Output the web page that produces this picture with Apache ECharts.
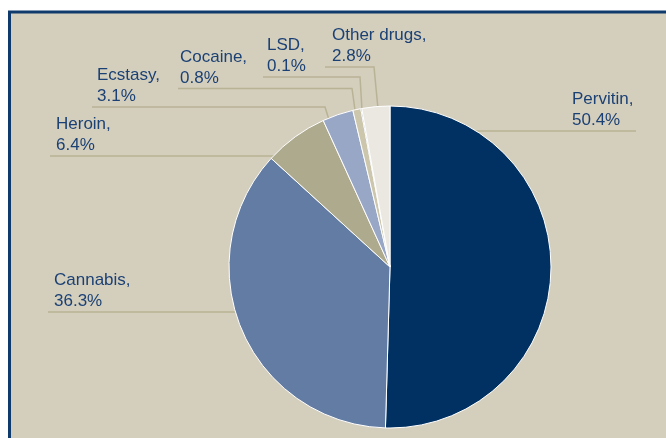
<!DOCTYPE html>
<html>
<head>
<meta charset="utf-8">
<script src="https://cdn.jsdelivr.net/npm/echarts@6/dist/echarts.min.js"></script>
<style>
  html, body { margin: 0; padding: 0; background: #ffffff; }
  #chart { width: 666px; height: 438px; }
</style>
</head>
<body>
<div id="chart"></div>
<script>
// ---- data ----
var categories = ['Pervitin', 'Cannabis', 'Heroin', 'Ecstasy', 'Cocaine', 'LSD', 'Other drugs'];
var shares = [50.4, 36.3, 6.4, 3.1, 0.8, 0.1, 2.8];

// ---- style / layout (not data) ----
var sliceColors = ['#003162', '#637ca4', '#aeaa8d', '#99a7c7', '#cbc6ac', '#1e3f70', '#ebe8e1'];
// label anchor (text left x, line y) and leader-line points per slice
var labelPlaces = [
  { x: 572, y: 131, pts: [[470, 131], [470, 131], [636, 131]] },
  { x: 54,  y: 312, pts: [[245, 312], [245, 312], [48, 312]] },
  { x: 56,  y: 156, pts: [[274, 156], [274, 156], [50, 156]] },
  { x: 97,  y: 107, pts: [[330, 123], [325, 107], [92, 107]] },
  { x: 180, y: 88.5, pts: [[355, 110], [352, 88.5], [178, 88.5]] },
  { x: 267, y: 77,  pts: [[362, 110], [360, 77], [263, 77]] },
  { x: 332, y: 67,  pts: [[378, 109], [374, 67], [325, 67]] }
];

var chart = echarts.init(document.getElementById('chart'), null, { renderer: 'canvas' });

var seriesData = categories.map(function (name, i) {
  return { name: name, value: shares[i], itemStyle: { color: sliceColors[i] } };
});

chart.setOption({
  animation: false,
  backgroundColor: '#ffffff',
  graphic: [{
    type: 'rect',
    z: -10,
    silent: true,
    shape: { x: 9.5, y: 12, width: 720, height: 520 },
    style: { fill: '#d4cebd', stroke: '#0e3a6c', lineWidth: 3 }
  }],
  series: [{
    type: 'pie',
    center: [390, 267],
    radius: 161,
    startAngle: 90,
    clockwise: true,
    avoidLabelOverlap: false,
    data: seriesData,
    itemStyle: { borderColor: '#ffffff', borderWidth: 1 },
    emphasis: { disabled: true },
    label: {
      show: true,
      formatter: '{b},\n{c}%',
      color: '#1b4174',
      fontFamily: 'Liberation Sans, Arial, sans-serif',
      fontSize: 17,
      lineHeight: 21
    },
    labelLine: {
      show: true,
      showAbove: true,
      lineStyle: { color: '#b9b395', width: 1.5 }
    },
    labelLayout: function (params) {
      var p = labelPlaces[params.dataIndex];
      return {
        x: p.x,
        y: p.y,
        align: 'left',
        verticalAlign: 'bottom',
        labelLinePoints: p.pts
      };
    }
  }]
});
</script>
</body>
</html>
